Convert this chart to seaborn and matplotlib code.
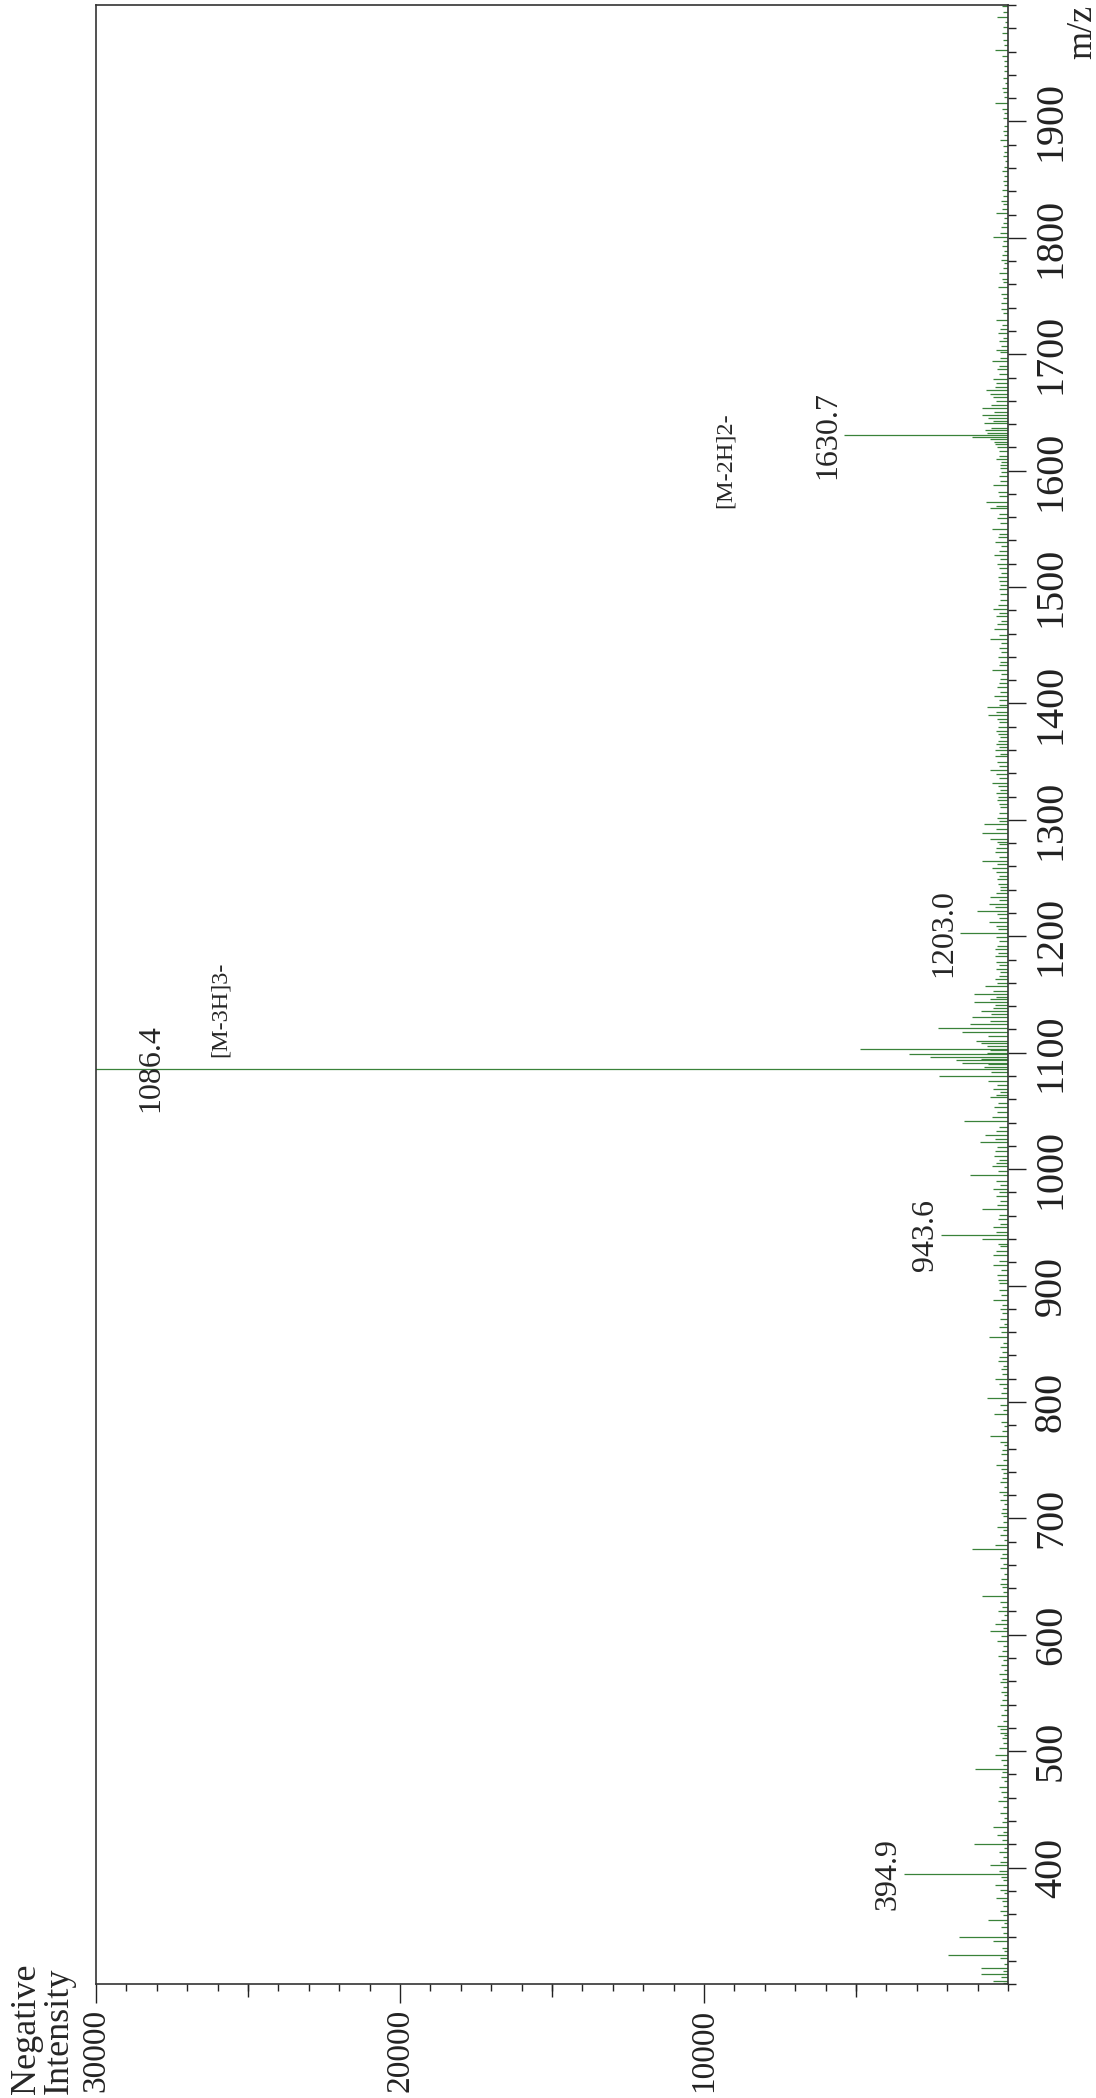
import matplotlib
matplotlib.use('Agg')
import matplotlib.pyplot as plt
import seaborn as sns
import numpy as np
import pandas as pd

# labelled / clearly readable peaks (m/z, intensity)
main_mz = [303, 309, 313.5, 325, 337, 340.5, 355, 374, 385, 394.9, 402.4, 420, 435, 457, 484.6, 497, 503, 516,
           522, 531, 540, 559, 566, 582, 595, 603, 609, 620, 633.4, 644, 666, 673.8, 677, 693, 708, 723, 731, 746,
           755, 770.7, 789.5, 803.6, 819.7, 835, 855.8, 871, 887.6, 905, 917.7, 926, 939.7, 943.6, 950, 965.6, 973,
           976.6, 983, 995, 1002.8, 1015.7, 1023.5, 1029.5, 1041.5, 1061.6, 1066, 1075.9, 1079.6, 1083, 1086.4,
           1091.1, 1093.7, 1096.6, 1098.9, 1102, 1103.2, 1110.4, 1117.5, 1120.9, 1124.7, 1130.4, 1135.5, 1143.6,
           1150.5, 1157.6, 1169, 1177.6, 1183, 1189.5, 1203.0, 1212, 1222, 1228, 1234,
           1242, 1249, 1259, 1264.5, 1276, 1284, 1288.8, 1296.8, 1311, 1317, 1320, 1332, 1342.5, 1355, 1360, 1368,
           1374, 1376, 1390.3, 1396.9, 1406, 1421, 1429, 1444, 1455.7, 1464, 1475, 1481.5, 1494,
           1508.5, 1527.3, 1538.3, 1550.3, 1567.6, 1573.4, 1587.7, 1604.7, 1610, 1622.6, 1629, 1630.7, 1634.9,
           1640.6, 1647.8, 1653.5, 1665.5, 1669.2, 1678.6, 1694.4, 1702, 1704, 1718, 1729.4, 1743.7,
           1758, 1770, 1781, 1801, 1809, 1821, 1832, 1841, 1861, 1884, 1915.7, 1928.5, 1943, 1961.6, 1976, 1990, 1999]
main_int = [500, 877, 877, 1974, 500, 1623, 658, 384, 440, 3430, 603, 1119, 500, 330, 1097, 417, 307, 274,
            351, 219, 274, 274, 307, 329, 351, 603, 439, 329, 856, 274, 274, 1185, 439, 351, 186, 296, 274, 406,
            219, 603, 461, 680, 417, 329, 636, 274, 494, 329, 494, 494, 856, 2200, 494, 856, 274,
            384, 494, 1262, 527, 439, 932, 768, 1450, 581, 252, 658, 2282, 548, 31500,
            1514, 1700, 2578, 3258, 603, 4860, 1042, 1514, 2304, 1262, 1185, 890, 1110,
            1110, 768, 274, 384, 439, 439, 1591, 625, 1020, 640, 603,
            274, 362, 516, 870, 384, 581, 870, 790, 274, 362, 329, 516, 603, 439, 439, 329,
            329, 384, 650, 691, 472, 274, 527, 219, 581, 472, 384, 494, 274,
            329, 472, 439, 527, 603, 713, 494, 274, 384, 417, 1170, 5410, 768,
            790, 856, 856, 603, 713, 494, 516, 274, 406, 340, 406, 219,
            318, 296, 241, 483, 219, 384, 219, 186, 132, 263, 428, 186, 132, 439, 186, 351, 186]

# low level noise peaks along the baseline
noise_mz = [301, 306, 311, 317, 322, 328, 331, 344, 349, 352, 359, 363, 367, 371, 378, 381, 389, 392, 397,
            405, 409, 413, 417, 424, 428, 431, 439, 443, 447, 452, 461, 465, 469, 474, 478, 482, 488, 492,
            507, 511, 514, 519, 526, 535, 544, 548, 551, 555, 562, 570, 574, 578, 586, 590, 599,
            606, 613, 617, 624, 628, 637, 641, 648, 652, 657, 661, 669, 681, 686, 690, 697,
            702, 705, 712, 716, 720, 727, 735, 739, 742, 750, 759, 763, 766, 775, 779, 783, 793, 797,
            808, 812, 815, 824, 828, 831, 839, 843, 847, 851, 860, 864, 867, 876, 880, 883, 892, 896,
            902, 909, 913, 921, 930, 934, 936, 946, 953, 957, 961, 969, 980, 986, 990, 998,
            1005, 1008, 1011, 1019, 1026, 1033, 1036, 1045, 1049, 1053, 1057, 1064, 1069, 1072, 1088, 1090, 1095, 1100,
            1106, 1108, 1114, 1127, 1133, 1138, 1141, 1146, 1148, 1153, 1160, 1163, 1166, 1172, 1175, 1186, 1192, 1196, 1199,
            1206, 1209, 1216, 1219, 1225, 1231, 1237, 1240, 1245, 1252, 1255, 1262, 1268, 1272, 1279, 1281, 1292, 1299,
            1302, 1306, 1314, 1323, 1326, 1329, 1336, 1339, 1346, 1350, 1357, 1363, 1365, 1371, 1380, 1384, 1387, 1393, 1399,
            1403, 1410, 1414, 1418, 1425, 1433, 1436, 1440, 1448, 1452, 1459, 1468, 1471, 1478, 1485, 1489, 1498,
            1502, 1505, 1512, 1516, 1520, 1524, 1531, 1535, 1543, 1546, 1555, 1559, 1563, 1570, 1578, 1582, 1591, 1595, 1599,
            1602, 1607, 1613, 1617, 1620, 1625, 1627, 1632, 1637, 1643, 1645, 1650, 1656, 1660, 1663, 1672, 1675, 1683, 1687, 1690, 1697,
            1707, 1711, 1714, 1722, 1725, 1735, 1739, 1748, 1752, 1762, 1765, 1774, 1778, 1785, 1789, 1793, 1797,
            1804, 1813, 1817, 1825, 1829, 1836, 1845, 1849, 1853, 1857, 1866, 1870, 1874, 1879, 1888, 1892, 1896,
            1903, 1907, 1911, 1921, 1925, 1933, 1937, 1948, 1952, 1956, 1966, 1970, 1981, 1985, 1994]
noise_int = [180, 240, 150, 120, 260, 140, 200, 160, 230, 120, 180, 260, 150, 210, 130, 250, 170, 220, 300,
             250, 180, 300, 140, 210, 350, 160, 200, 120, 250, 180, 150, 220, 280, 130, 240, 190, 160, 230,
             150, 200, 120, 250, 180, 140, 210, 130, 230, 160, 190, 120, 240, 170, 200, 150, 220,
             180, 240, 130, 200, 260, 150, 190, 230, 120, 250, 170, 210, 140, 260, 180, 150,
             160, 220, 130, 250, 180, 140, 210, 170, 240, 150, 200, 130, 260, 190, 140, 230, 170, 250,
             220, 150, 280, 190, 240, 160, 300, 200, 250, 170, 230, 280, 140, 210, 260, 190, 240, 300,
             280, 350, 220, 300, 380, 250, 320, 400, 260, 330, 280, 350, 300, 260, 380, 320,
             380, 300, 450, 350, 420, 380, 300, 520, 360, 450, 330, 400, 480, 360, 800, 650, 900, 700,
             700, 900, 650, 600, 550, 480, 420, 600, 380, 500, 350, 420, 300, 380, 280, 320, 360, 280, 400,
             320, 400, 280, 360, 420, 300, 380, 250, 330, 280, 400, 350, 300, 420, 280, 360, 400, 300,
             350, 280, 300, 380, 260, 320, 300, 400, 280, 350, 250, 300, 380, 260, 320, 280, 350, 400, 300,
             300, 250, 350, 280, 220, 300, 260, 330, 280, 240, 300, 350, 220, 280, 320, 250, 300,
             250, 300, 220, 280, 350, 260, 300, 240, 330, 280, 260, 350, 300, 400, 280, 320, 260, 300, 240,
             260, 220, 300, 280, 350, 450, 600, 700, 550, 500, 650, 450, 550, 400, 480, 420, 380, 300, 350, 280, 250,
             220, 300, 180, 250, 200, 160, 240, 180, 220, 150, 200, 170, 130, 190, 140, 210, 160,
             250, 160, 130, 200, 150, 180, 120, 160, 140, 190, 110, 150, 130, 170, 120, 160, 140,
             150, 120, 200, 130, 170, 110, 160, 140, 120, 200, 130, 170, 150, 110, 160]

label_mz = [394.9, 943.6, 1203.0, 1630.7]
ion_labels = ['[M-3H]3-', '[M-2H]2-']

sns.set_style('ticks')
plt.rcParams['font.family'] = ['Liberation Serif', 'DejaVu Serif']

df = pd.DataFrame({'mz': main_mz + noise_mz, 'intensity': main_int + noise_int})
peaks = pd.DataFrame({'mz': main_mz, 'intensity': main_int})

fig = plt.figure(figsize=(10.96, 20.98), dpi=100)
ax = fig.add_axes([96 / 1096, 114 / 2098, 912 / 1096, 1979 / 2098])

ax.hlines(df['mz'], 0, df['intensity'], color='#3a823a', lw=0.9)

ax.set_xlim(30000, 0)
ax.set_ylim(300, 2000)

# m/z axis on the right
ax.yaxis.tick_right()
ax.set_yticks(np.arange(400, 2000, 100))
ax.set_yticks(np.arange(300, 2001, 20), minor=True)
ax.set_yticklabels([str(v) for v in range(400, 2000, 100)], rotation=90, va='center')
ax.tick_params(axis='y', which='major', length=13, width=1, pad=5, labelsize=29, colors='#222222')
ax.tick_params(axis='y', which='minor', length=6, width=1, colors='#222222')

# intensity axis at the bottom
ax.set_xticks([10000, 20000, 30000])
ax.set_xticks(np.arange(0, 30001, 1000), minor=True)
ax.set_xticklabels(['10000', '20000', '30000'], rotation=90)
ax.tick_params(axis='x', which='major', length=14, width=1, pad=4, labelsize=24, colors='#222222')
ax.tick_params(axis='x', which='minor', length=5, width=1, colors='#222222')
sec = ax.secondary_xaxis('bottom')
sec.set_xticks([5000, 15000, 25000])
sec.tick_params(length=9, width=1, labelbottom=False, colors='#222222')
sec.spines['bottom'].set_visible(False)

for s in ax.spines.values():
    s.set_color('#333333')
    s.set_linewidth(1.2)

# peak labels
for m in label_mz:
    h = peaks.loc[(peaks['mz'] - m).abs().idxmin(), 'intensity']
    ax.annotate(f'{m:.1f}', xy=(h, m), xytext=(-1, 0), textcoords='offset points',
                rotation=90, ha='right', va='center', fontsize=23)
ax.text(28200, 1086.4, '1086.4', rotation=90, ha='center', va='center', fontsize=23)
ax.text(25900, 1096, ion_labels[0], rotation=90, ha='center', va='bottom', fontsize=17.5)
ax.text(9300, 1568, ion_labels[1], rotation=90, ha='center', va='bottom', fontsize=17.5)

fig.text(1083 / 1096, 1 - 32 / 2098, 'm/z', rotation=90, ha='center', va='center', fontsize=26)
fig.text(43 / 1096, 4 / 2098, 'Negative\nIntensity', rotation=90, ha='center', va='bottom',
         multialignment='left', linespacing=1.0, fontsize=26)

fig.savefig('out.png', dpi=100)
